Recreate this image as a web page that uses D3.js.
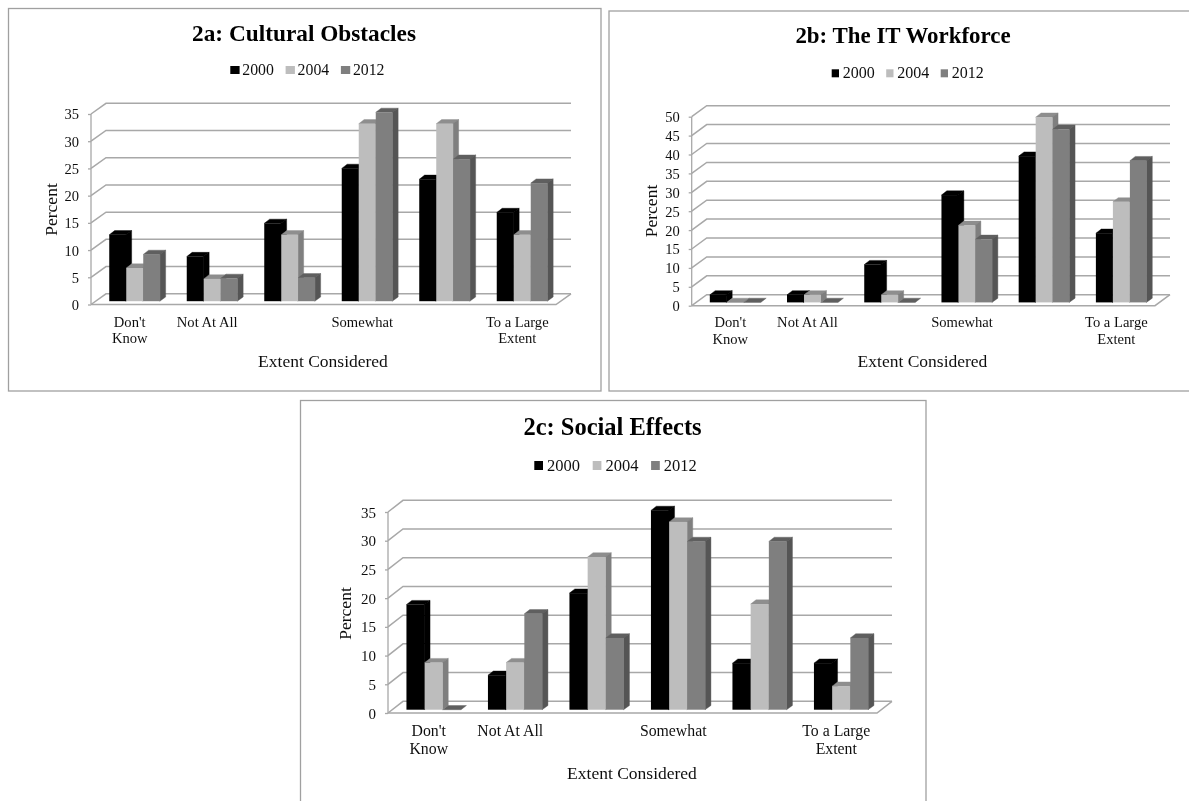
<!DOCTYPE html>
<html><head><meta charset="utf-8">
<script src="https://cdn.jsdelivr.net/npm/d3@7/dist/d3.min.js"></script>
<style>html,body{margin:0;padding:0;background:#fff}svg{display:block}text{font-family:"Liberation Serif",serif;fill:#111}</style>
</head><body><svg id="c" width="1189" height="801">
<defs><filter id="soft" x="0" y="0" width="100%" height="100%"><feGaussianBlur stdDeviation="0.4"/></filter></defs>
</svg>
<script>
const categories = [["Don't","Know"],["Not At All"],[""],["Somewhat"],[""],["To a Large","Extent"]];
const seriesNames = ["2000","2004","2012"];
const a2000 = [12.2,8.2,14.3,24.4,22.4,16.3];
const a2004 = [6.1,4.1,12.2,32.6,32.6,12.2];
const a2012 = [8.6,4.2,4.3,34.7,26.1,21.7];
const b2000 = [2,2,10,28.4,38.7,18.3];
const b2004 = [0,2,2,20.4,49,26.6];
const b2012 = [0,0,0,16.7,45.8,37.5];
const c2000 = [18.3,6,20.3,34.7,8.1,8.1];
const c2004 = [8.2,8.2,26.6,32.7,18.4,4.1];
const c2012 = [0,16.7,12.5,29.3,29.3,12.5];
const frontColors = ["#000000","#bdbdbd","#7f7f7f"];
const topColors = ["#000000","#8e8e8e","#5f5f5f"];
const sideColors = ["#000000","#7f7f7f","#555555"];
const legendColors = ["#000000","#bdbdbd","#7f7f7f"];
const panels = [
 {title:"2a: Cultural Obstacles",values:[a2000,a2004,a2012],frame:[8.5,8.5,592.5,382.5],max:35,
  x0:91,x1:556,y0:304.5,yTop:114,back:[15,10.7],barW:17,baseUp:3.3,fs:14.6,tick:14.5,titleFs:23.3,
  titleX:304,titleY:41,legX:230.3,legY:70,legStep:55.3,sq:[9.3,8],legFs:15.8,legDx:12,legBase:4.8,percentX:56.5,percentY:209.5,axisX:323,axisY:367,catY:326.7},
 {title:"2b: The IT Workforce",values:[b2000,b2004,b2012],frame:[609,11,590,380],max:50,
  x0:691.7,x1:1155,y0:305.7,yTop:116.7,back:[15,11],barW:17,baseUp:3.3,fs:14.6,tick:14.5,titleFs:22.9,
  titleX:903,titleY:43.3,legX:831.7,legY:73.3,legStep:54.5,sq:[7.3,8],legFs:16,legDx:11,legBase:5,percentX:657,percentY:211,axisX:922.5,axisY:367,catY:327.3},
 {title:"2c: Social Effects",values:[c2000,c2004,c2012],frame:[300.5,400.5,625.5,420],max:35,
  x0:388,x1:877,y0:713,yTop:512,back:[15,11.7],barW:18.2,baseUp:3.3,fs:15.8,tick:15,titleFs:24.5,
  titleX:612.5,titleY:435,legX:534.3,legY:465.5,legStep:58.4,sq:[8.7,9],legFs:16.5,legDx:12.7,legBase:5.5,percentX:351,percentY:613.5,axisX:632,axisY:779,catY:736}
];
const svg = d3.select("#c");
const gridColor = "#a8a8a8";
const root = svg.append("g").attr("filter","url(#soft)");
root.append("rect").attr("width",1189).attr("height",801).attr("fill","#fff");
panels.forEach(p=>{
  const g = root.append("g");
  g.append("rect").attr("x",p.frame[0]).attr("y",p.frame[1]).attr("width",p.frame[2]).attr("height",p.frame[3])
    .attr("fill","#fff").attr("stroke","#a0a0a0").attr("stroke-width",1.3);
  g.append("text").attr("x",p.titleX).attr("y",p.titleY).attr("text-anchor","middle")
    .attr("font-size",p.titleFs).attr("font-weight","bold").style("fill","#000").text(p.title);
  const legend = g.selectAll(".leg").data(seriesNames).join("g")
    .attr("transform",(d,i)=>`translate(${p.legX+i*p.legStep},${p.legY})`);
  legend.append("rect").attr("x",0).attr("y",-p.sq[1]/2).attr("width",p.sq[0]).attr("height",p.sq[1]).attr("fill",(d,i)=>legendColors[i]);
  legend.append("text").attr("x",p.legDx).attr("y",p.legBase).attr("font-size",p.legFs).text(d=>d);

  const y = d3.scaleLinear().domain([0,p.max]).range([p.y0,p.yTop]);
  const x = d3.scaleBand().domain(d3.range(categories.length)).range([p.x0,p.x1]).padding(0);
  const ticks = d3.range(0,p.max+1,5);
  const [bx,by] = p.back;
  g.append("g").selectAll("path").data(ticks).join("path")
    .attr("d",t=>d3.line()([[p.x0,y(t)],[p.x0+bx,y(t)-by],[p.x1+bx,y(t)-by]]))
    .attr("fill","none").attr("stroke",gridColor).attr("stroke-width",1.5);
  g.append("path").attr("d",d3.line()([[p.x0,y(0)],[p.x1,y(0)],[p.x1+bx,y(0)-by]]))
    .attr("fill","none").attr("stroke",gridColor).attr("stroke-width",1.5);
  const axis = g.append("g").attr("transform",`translate(${p.x0},0)`)
    .call(d3.axisLeft(y).tickValues(ticks).tickSize(3).tickPadding(9));
  axis.selectAll("path,line").attr("stroke",gridColor).attr("stroke-width",1.3);
  axis.select(".domain").attr("d",`M0,${y(0)}V${y(p.max)}`);
  axis.selectAll("text").attr("font-size",p.tick).attr("font-family",'"Liberation Serif",serif').attr("dy","0.34em");
  const groupW = p.barW*3;
  const bands = g.append("g").selectAll("g").data(categories).join("g")
    .attr("transform",(d,i)=>`translate(${x(i)+x.bandwidth()/2+5-groupW/2},0)`);
  const sub = d3.scaleBand().domain(d3.range(3)).range([0,groupW]);
  const dx=5.4, dy=4.2;
  seriesNames.forEach((s,si)=>{
    const base = y(0)-p.baseUp;
    const bar = bands.append("g").datum((d,i)=>p.values[si][i]);
    const X = sub(si), W = sub.bandwidth();
    bar.append("path").attr("fill",topColors[si]).attr("stroke",topColors[si]).attr("stroke-width",0.4)
      .attr("d",v=>{const t=y(v)-p.baseUp;return d3.line()([[X,t],[X+W,t],[X+W+dx,t-dy],[X+dx,t-dy]])+"Z";});
    bar.filter(v=>v>0).append("path").attr("fill",sideColors[si]).attr("stroke",sideColors[si]).attr("stroke-width",0.4)
      .attr("d",v=>{const t=y(v)-p.baseUp;return d3.line()([[X+W-0.5,t],[X+W+dx,t-dy],[X+W+dx,base-dy],[X+W-0.5,base]])+"Z";});
    bar.filter(v=>v>0).append("rect").attr("fill",frontColors[si])
      .attr("x",X).attr("width",W).attr("y",v=>y(v)-p.baseUp).attr("height",v=>y(0)-y(v));
  });
  const lab = g.append("g").selectAll("text").data(categories).join("text")
    .attr("text-anchor","middle").attr("font-size",p.fs).attr("y",p.catY);
  lab.selectAll("tspan").data((d,i)=>d.map(t=>({t,i}))).join("tspan")
    .attr("x",d=>x(d.i)+x.bandwidth()/2).attr("dy",(d,j)=>j?"1.13em":0).text(d=>d.t);
  g.append("text").attr("x",p.axisX).attr("y",p.axisY).attr("text-anchor","middle").attr("font-size",17.5).text("Extent Considered");
  g.append("text").attr("transform",`translate(${p.percentX},${p.percentY}) rotate(-90)`).attr("text-anchor","middle").attr("font-size",17.5).text("Percent");
});
</script></body></html>
